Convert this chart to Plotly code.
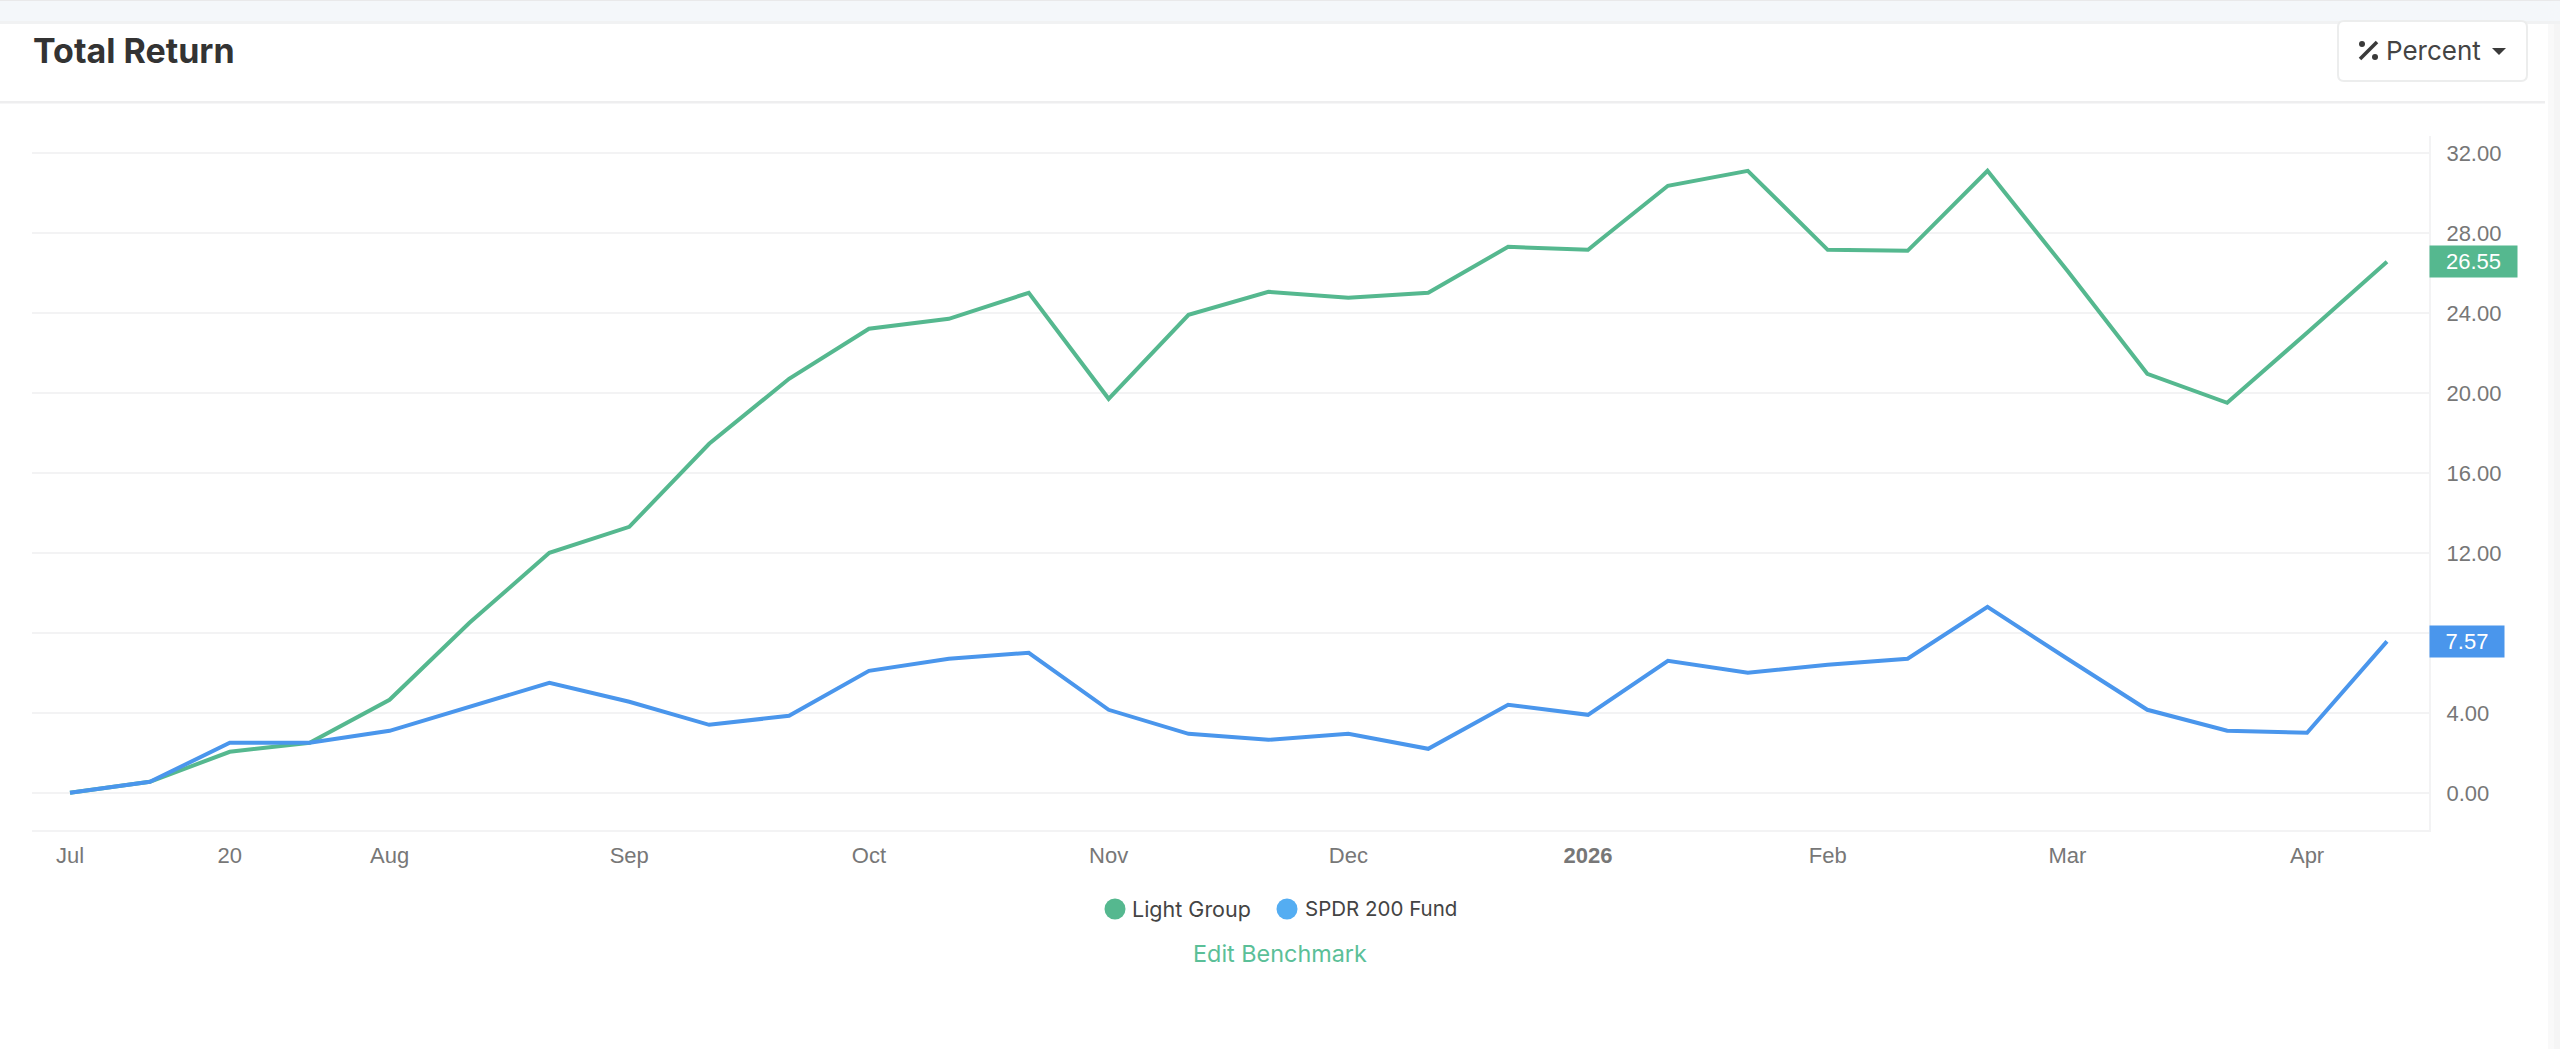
import plotly.graph_objects as go

# ---- data ----
periods = list(range(30))
tick_positions = [0, 2, 4, 7, 10, 13, 16, 19, 22, 25, 28]
tick_labels = ["Jul", "20", "Aug", "Sep", "Oct", "Nov", "Dec", "<b>2026</b>", "Feb", "Mar", "Apr"]
y_ticks = [0, 4, 8, 12, 16, 20, 24, 28, 32]
y_tick_labels = ["0.00", "4.00", "", "12.00", "16.00", "20.00", "24.00", "28.00", "32.00"]  # 8.00 sits behind the 7.57 tag
light_group = [0.0, 0.55, 2.05, 2.5, 4.65, 8.5, 12.0, 13.3, 17.45, 20.7, 23.2, 23.7, 25.0, 19.7, 23.9,
               25.05, 24.75, 25.0, 27.3, 27.15, 30.35, 31.1, 27.15, 27.1, 31.1, 26.1, 20.95, 19.5, 23.0, 26.55]
spdr_200 = [0.0, 0.55, 2.5, 2.5, 3.1, 4.3, 5.5, 4.55, 3.4, 3.85, 6.1, 6.7, 7.0, 4.15, 2.95,
            2.65, 2.95, 2.2, 4.4, 3.9, 6.6, 6.0, 6.4, 6.7, 9.3, 6.7, 4.15, 3.1, 3.0, 7.57]
series_names = ["Light Group", "SPDR 200 Fund"]

GREEN = "#55b88f"
BLUE = "#4a96ec"
GRID = "#f3f3f4"
W, H = 2560, 1049
L, R, T, B = 32, 2429, 136, 830


def px(x):
    return (x - L) / (R - L)


def py(y):
    return (B - y) / (B - T)


def rect(x0, y0, x1, y1, fill, line=None, layer="below", kind="rect"):
    return dict(type=kind, xref="paper", yref="paper", x0=px(x0), x1=px(x1), y0=py(y0), y1=py(y1),
                fillcolor=fill, line=dict(color=line or fill, width=2 if line else 0), layer=layer)


def text(x, y, s, size, color, anchor="left", family="Inter", weight=None):
    font = dict(size=size, color=color, family=family)
    if weight:
        font["weight"] = weight
    return dict(xref="paper", yref="paper", x=px(x), y=py(y), text=s, showarrow=False, xanchor=anchor,
                yanchor="middle", font=font)


fig = go.Figure()
fig.add_trace(go.Scatter(x=periods, y=light_group, mode="lines", name=series_names[0],
                         line=dict(color=GREEN, width=4), showlegend=False))
fig.add_trace(go.Scatter(x=periods, y=spdr_200, mode="lines", name=series_names[1],
                         line=dict(color=BLUE, width=4), showlegend=False))

shapes = [
    rect(0, 0, W, 21, "#f4f7fa"),
    rect(0, 0, W, 1, "#e9e9ea"),
    rect(0, 21, W, 24, "#f1f2f3"),
    rect(0, 101, 2545, 103.5, "#eeeeef"),
    rect(2548, 24, 2560, H, "#f9f9f9"),
    rect(2554, 24, 2560, H, "#f5f5f5"),
    dict(type="path", xref="paper", yref="paper", layer="above", fillcolor="white",
         line=dict(color="#eceded", width=2),
         path=f"M {px(2344)} {py(21)} L {px(2521)} {py(21)} Q {px(2527)} {py(21)} {px(2527)} {py(27)} "
              f"L {px(2527)} {py(75)} Q {px(2527)} {py(81)} {px(2521)} {py(81)} L {px(2344)} {py(81)} "
              f"Q {px(2338)} {py(81)} {px(2338)} {py(75)} L {px(2338)} {py(27)} Q {px(2338)} {py(21)} {px(2344)} {py(21)} Z"),
    dict(type="line", xref="paper", yref="paper", x0=px(2360), x1=px(2377), y0=py(59), y1=py(42),
         line=dict(color="#3a3a3a", width=3.5), layer="above"),
    rect(2359, 41, 2365, 47, "#3a3a3a", layer="above", kind="circle"),
    rect(2372, 54, 2378, 60, "#3a3a3a", layer="above", kind="circle"),
    dict(type="path", xref="paper", yref="paper", layer="above", fillcolor="#3a3a3a", line=dict(width=0),
         path=f"M {px(2492)} {py(48)} L {px(2506)} {py(48)} L {px(2499)} {py(55)} Z"),
    rect(1104.5, 898.5, 1125.5, 919.5, "#55b88f", layer="above", kind="circle"),
    rect(1276.5, 898.5, 1297.5, 919.5, "#54adf2", layer="above", kind="circle"),
]

annotations = [
    text(31, 50, "<b>Total Return</b>", 34, "#333333", weight=800),
    text(2384, 50, "Percent", 26, "#444444"),
    text(1130, 909, series_names[0], 21.5, "#444444"),
    text(1303, 909, series_names[1], 20.5, "#444444"),
    text(1280, 953, "Edit Benchmark", 23.4, "#5bbf98", anchor="center"),
    dict(xref="paper", yref="y", x=1, y=light_group[-1], text=f"{light_group[-1]:.2f}", showarrow=False,
         xanchor="left", yanchor="middle", width=87, height=31, bgcolor=GREEN, align="center",
         borderpad=0, font=dict(size=22, color="white", family="Liberation Sans")),
    dict(xref="paper", yref="y", x=1, y=spdr_200[-1], text=f"{spdr_200[-1]:.2f}", showarrow=False,
         xanchor="left", yanchor="middle", width=74, height=31, bgcolor=BLUE, align="center",
         borderpad=0, font=dict(size=22, color="white", family="Liberation Sans")),
]

fig.update_layout(
    width=W, height=H, paper_bgcolor="white", plot_bgcolor="white",
    margin=dict(l=L, r=W - R, t=T, b=H - B, pad=0),
    showlegend=False, shapes=shapes, annotations=annotations,
    font=dict(family="Liberation Sans", size=22, color="#777777"),
    xaxis=dict(range=[-0.4756, 29.526], tickmode="array", tickvals=tick_positions, ticktext=tick_labels,
               showgrid=False, zeroline=False, showline=True, linecolor=GRID, linewidth=2,
               ticks="outside", ticklen=5, tickcolor="rgba(0,0,0,0)",
               tickfont=dict(size=22, color="#777777")),
    yaxis=dict(range=[-1.86, 32.84], side="right", tickmode="array", tickvals=y_ticks, ticktext=y_tick_labels,
               showgrid=True, gridcolor=GRID, gridwidth=2, zeroline=False,
               showline=True, linecolor=GRID, linewidth=2, ticks="outside", ticklen=11,
               tickcolor="rgba(0,0,0,0)", tickfont=dict(size=22, color="#777777")),
)

fig.write_html("out.html", config={"displayModeBar": False}, post_script="document.body.style.margin='0';")
